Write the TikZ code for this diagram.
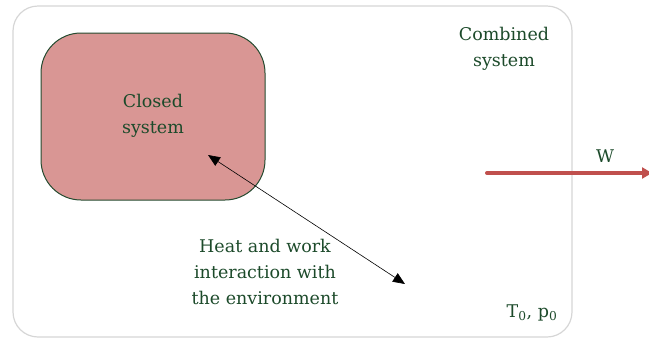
\documentclass[tikz,border=0pt]{standalone}
\usepackage{fontspec}
\setmainfont{DejaVu Serif}
\usetikzlibrary{arrows.meta}
\definecolor{txtgreen}{HTML}{1C4A2A}
\definecolor{boxfill}{HTML}{D99694}
\definecolor{boxline}{HTML}{254B30}
\definecolor{wred}{HTML}{C0504D}
\definecolor{outerline}{HTML}{D6D6D6}
\tikzset{
  lbl/.style={text=txtgreen, font=\fontsize{17.5}{26}\selectfont, align=center, inner sep=0pt},
}
\begin{document}
\begin{tikzpicture}[x=1pt,y=-1pt]
\useasboundingbox (0,0) rectangle (649,338);
% combined system boundary
\draw[outerline, line width=1.2pt, rounded corners=25pt] (13,6) rectangle (572,337);
% closed system
\node[draw=boxline, fill=boxfill, line width=1pt, rounded corners=40pt,
      minimum width=224pt, minimum height=167pt, inner sep=0pt] (closed) at (153,116.5) {};
\node[lbl] (closedtxt) at (153,116) {Closed\\system};
\node[lbl] (combined) at (504,49) {Combined\\system};
\node[lbl] (heat) at (265,272) {Heat and work\\interaction with\\the environment};
\node[lbl] (T0) at (532,313) {T\textsubscript{0}, p\textsubscript{0}};
\node[lbl] (W) at (605,156) {W};
% work arrow
\coordinate (wstart) at (487,173);
\coordinate (wend) at (652,173);
\draw[wred, line width=4pt, line cap=round, -{Triangle[length=10pt,width=11pt]}] (wstart) -- (wend);
% heat/work double arrow
\coordinate (a1) at (208,155);
\coordinate (a2) at (405,284);
\draw[black, line width=0.6pt, {Triangle[length=12pt,width=10pt]}-{Triangle[length=12pt,width=10pt]}] (a1) -- (a2);
\end{tikzpicture}
\end{document}
